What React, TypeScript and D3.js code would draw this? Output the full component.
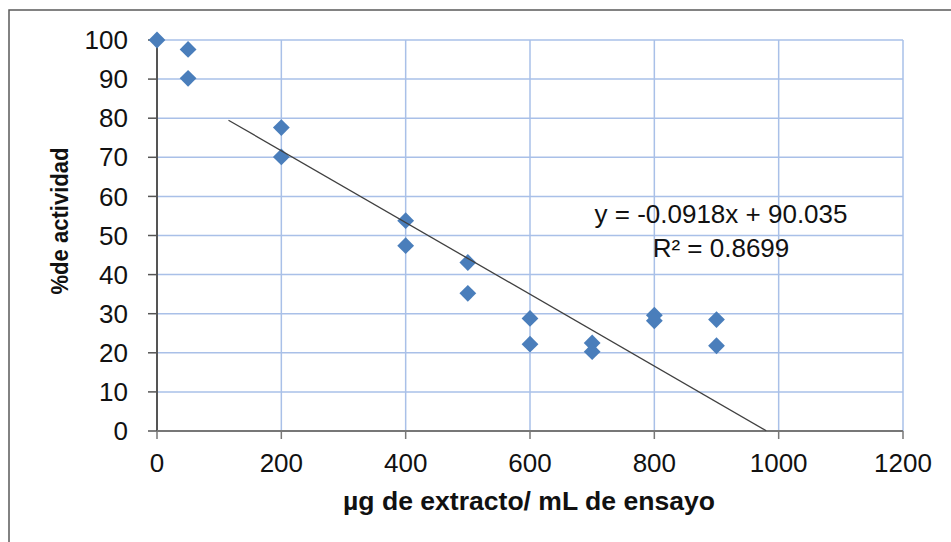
import React from "react";
import * as d3 from "d3";

const xValues = [0, 50, 50, 200, 200, 400, 400, 500, 500, 600, 600, 700, 700, 800, 800, 900, 900];
const yValues = [100, 97.6, 90.2, 77.6, 70.1, 53.8, 47.4, 43.1, 35.2, 28.8, 22.2, 22.5, 20.3, 29.6, 28.2, 28.5, 21.8];
const xTicks = [0, 200, 400, 600, 800, 1000, 1200];
const yTicks = [0, 10, 20, 30, 40, 50, 60, 70, 80, 90, 100];
const trendSlope = -0.0918;
const trendIntercept = 90.035;
const trendXRange = [115, 980];
const equationLines = ["y = -0.0918x + 90.035", "R² = 0.8699"];
const xTitle = "µg de extracto/ mL de ensayo";
const yTitle = "%de actividad";

const W = 951;
const H = 542;
const plot = { left: 157, right: 903, top: 40, bottom: 431 };
const FONT = "'Liberation Sans', Arial, sans-serif";

export default function App() {
  const x = d3.scaleLinear().domain([0, 1200]).range([plot.left, plot.right]);
  const y = d3.scaleLinear().domain([0, 100]).range([plot.bottom, plot.top]);
  const points = xValues.map((v, i) => [v, yValues[i]] as [number, number]);
  const diamond = d3.symbol().type(d3.symbolDiamond2).size(180)();
  const trendLine = d3
    .line<number>()
    .x((d) => x(d))
    .y((d) => y(trendSlope * d + trendIntercept));

  return (
    <svg
      width={W}
      height={H}
      style={{ position: "fixed", left: 0, top: 0, background: "#fff" }}
      fontFamily={FONT}
    >
      <rect x={0} y={0} width={W} height={H} fill="#fff" />
      <rect x={9} y={10} width={W + 20} height={H + 20} fill="#fff" stroke="#595959" strokeWidth={1.5} />
      {/* gridlines */}
      {yTicks.map((t) => (
        <line key={"gy" + t} x1={plot.left} x2={plot.right} y1={y(t)} y2={y(t)} stroke="#a9c0e8" strokeWidth={1.5} />
      ))}
      {xTicks.map((t) => (
        <line key={"gx" + t} x1={x(t)} x2={x(t)} y1={plot.top} y2={plot.bottom} stroke="#a9c0e8" strokeWidth={1.5} />
      ))}
      {/* axes */}
      <line x1={plot.left} x2={plot.left} y1={plot.top} y2={plot.bottom} stroke="#555" strokeWidth={2} />
      <line x1={plot.left} x2={plot.right} y1={plot.bottom} y2={plot.bottom} stroke="#777" strokeWidth={2} />
      {yTicks.map((t) => (
        <g key={"ty" + t}>
          <line x1={plot.left - 9} x2={plot.left} y1={y(t)} y2={y(t)} stroke="#555" strokeWidth={1.5} />
          <text x={128} y={y(t)} dy="0.35em" textAnchor="end" fontSize={26} fill="#111">
            {t}
          </text>
        </g>
      ))}
      {xTicks.map((t) => (
        <g key={"tx" + t}>
          <line x1={x(t)} x2={x(t)} y1={plot.bottom} y2={plot.bottom + 8} stroke="#777" strokeWidth={1.5} />
          <text x={x(t)} y={472} textAnchor="middle" fontSize={26} fill="#111">
            {t}
          </text>
        </g>
      ))}
      {/* points */}
      {points.map((p, i) => (
        <path key={"p" + i} d={diamond!} transform={`translate(${x(p[0])},${y(p[1])})`} fill="#4a7ebb" />
      ))}
      {/* trend line */}
      <path d={trendLine(trendXRange)!} fill="none" stroke="#404040" strokeWidth={1.3} />
      {/* equation */}
      <text x={721} y={223} textAnchor="middle" fontSize={26} fill="#111">
        {equationLines[0]}
      </text>
      <text x={721} y={257} textAnchor="middle" fontSize={26} fill="#111">
        {equationLines[1]}
      </text>
      {/* titles */}
      <text
        x={529}
        y={510}
        textAnchor="middle"
        fontSize={26}
        fontWeight="bold"
        fill="#111"
        textLength={372}
        lengthAdjust="spacingAndGlyphs"
      >
        {xTitle}
      </text>
      <text
        transform={`translate(68,221) rotate(-90)`}
        textAnchor="middle"
        fontSize={24}
        fontWeight="bold"
        fill="#111"
        textLength={147}
        lengthAdjust="spacingAndGlyphs"
      >
        {yTitle}
      </text>
    </svg>
  );
}
